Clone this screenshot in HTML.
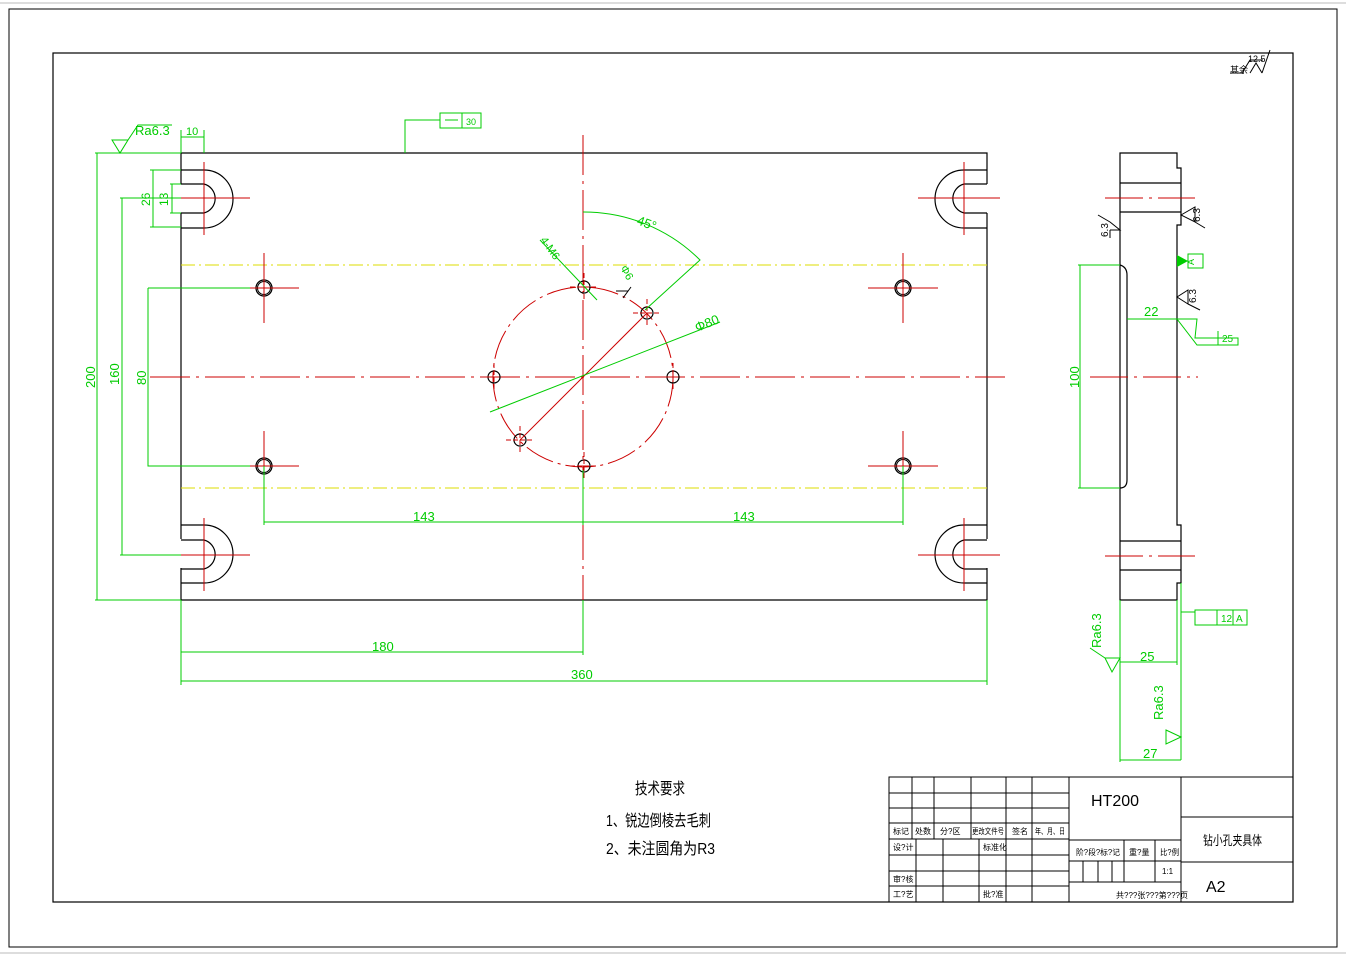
<!DOCTYPE html>
<html><head><meta charset="utf-8"><style>
body{margin:0;background:#fff}
svg{display:block}
text{font-family:"Liberation Sans","Noto Sans CJK SC",sans-serif}
</style></head><body>
<svg width="1346" height="957" viewBox="0 0 1346 957" xmlns="http://www.w3.org/2000/svg">
<defs>
<g id="notch">
 <path d="M181 170 H204 A29 29 0 0 1 204 228 H181 M181 184 H204 A15 15 0 0 1 204 213 H181" fill="none" stroke="#000" stroke-width="1.2"/>
 <path d="M168 198 H250 M204 162 V235" stroke="#c00" stroke-width="1"/>
</g>
<g id="hole">
 <circle cx="0" cy="0" r="8" fill="none" stroke="#000" stroke-width="1.3"/>
 <circle cx="0" cy="0" r="6.5" fill="none" stroke="#000" stroke-width="1"/>
 <path d="M-35 0 H35 M0 -35 V35" stroke="#c00" stroke-width="1"/>
</g>
<g id="sh">
 <circle cx="0" cy="0" r="6" fill="none" stroke="#000" stroke-width="1.2"/>
 <path d="M-14 0 H14 M0 -14 V14" stroke="#c00" stroke-width="1" stroke-dasharray="5 2"/>
</g>
</defs>
<rect x="0" y="0" width="1346" height="957" fill="#fff"/>
<rect x="9" y="9" width="1328" height="938" fill="none" stroke="#000" stroke-width="1"/>
<rect x="53" y="53" width="1240" height="849" fill="none" stroke="#000" stroke-width="1.2"/>
<line x1="0" y1="3" x2="1346" y2="3" stroke="#bbb"/>
<line x1="0" y1="953" x2="1346" y2="953" stroke="#bbb"/>

<path d="M181 153 H987 V170 M987 228 V525 M987 583 V600 H181 V583 M181 525 V228 M181 170 V153" fill="none" stroke="#000" stroke-width="1.2"/>
<path d="M181 170 V184 M181 213 V228 M987 170 V184 M987 213 V228 M181 525 V539 M181 568 V583 M987 525 V539 M987 568 V583" stroke="#000" stroke-width="1.2"/>
<use href="#notch"/>
<use href="#notch" transform="translate(1168,0) scale(-1,1)"/>
<use href="#notch" transform="translate(0,753) scale(1,-1)"/>
<use href="#notch" transform="translate(1168,753) scale(-1,-1)"/>

<path d="M181 265 H987 M181 488 H987" stroke="#dd0" stroke-width="1" stroke-dasharray="14 4 2 4"/>
<path d="M150 377 H1005 M583 135 V610" stroke="#c00" stroke-width="1" stroke-dasharray="40 6 3 6"/>
<circle cx="583" cy="377" r="90" fill="none" stroke="#c00" stroke-width="1" stroke-dasharray="30 5 3 5"/>
<use href="#hole" x="264" y="288"/>
<use href="#hole" x="903" y="288"/>
<use href="#hole" x="264" y="466"/>
<use href="#hole" x="903" y="466"/>
<use href="#sh" x="584" y="287"/>
<use href="#sh" x="584" y="466"/>
<use href="#sh" x="494" y="377"/>
<use href="#sh" x="673" y="377"/>
<use href="#sh" x="520" y="440"/>
<use href="#sh" x="647" y="313"/>
<path d="M520 440 L647 313" stroke="#c00" stroke-width="1"/>

<g stroke="#0c0" stroke-width="1" fill="none">
 <path d="M95 153 H181 M97 153 V600 M95 600 H181"/>
 <path d="M120 198 H181 M122 198 V555 M120 555 H181"/>
 <path d="M148 288 H250 M148 288 V466 H250"/>
 <path d="M150 170 H181 M153 170 V227 M150 227 H181"/>
 <path d="M170 184 H181 M172 184 V213 M170 213 H181"/>
 <path d="M181 130 V153 M204 130 V153 M181 137 H204"/>
 <path d="M264 466 V525 M903 466 V525 M264 522 H903 M583 470 V525"/>
 <path d="M181 600 V685 M987 600 V685 M181 652 H583 M583 600 V655 M181 681 H987"/>
 <path d="M583 212 A165 165 0 0 1 700 260 L645 310"/>
 <path d="M540 240 L597 300"/>
 <path d="M490 412 L720 322"/>
 <path d="M405 153 V120 H440 M440 113 H481 V128 H440 Z M462 113 V128 M445 120 H458"/>
 <path d="M112 140 L120 153 L128 140 Z M128 140 L138 125 H172"/>
</g>
<g fill="#0c0" font-size="13">
 <text x="135" y="135">Ra6.3</text>
 <text x="186" y="135" font-size="11">10</text>
 <text x="466" y="125" font-size="9">30</text>
 <text x="413" y="521">143</text>
 <text x="733" y="521">143</text>
 <text x="372" y="651">180</text>
 <text x="571" y="679">360</text>
 <text x="636" y="224" transform="rotate(20 636 224)">45°</text>
 <text x="697" y="332" transform="rotate(-22 697 332)">Φ80</text>
 <text x="540" y="240" transform="rotate(55 540 240)" font-size="11">4-M6</text>
 <text x="620" y="268" transform="rotate(60 620 268)" font-size="11">Φ6</text>
 <text x="95" y="388" transform="rotate(-90 95 388)">200</text>
 <text x="119" y="385" transform="rotate(-90 119 385)">160</text>
 <text x="146" y="385" transform="rotate(-90 146 385)">80</text>
 <text x="150" y="206" transform="rotate(-90 150 206)" font-size="12">26</text>
 <text x="168" y="206" transform="rotate(-90 168 206)" font-size="12">13</text>
</g>
<path d="M616 291 L628 291 M623 298 L631 287" stroke="#000" stroke-width="1"/>

<g stroke="#000" stroke-width="1.2" fill="none">
 <path d="M1120 153 H1177 V168 H1181 V225 H1177 V525 H1181 V583 H1177 V600 H1120 Z"/>
 <path d="M1120 183 H1181 M1120 212 H1181 M1120 541 H1181 M1120 570 H1181"/>
 <path d="M1120 265 Q1127 267 1127 275 V480 Q1127 488 1120 488"/>
</g>
<path d="M1105 198 H1195 M1105 556 H1195 M1090 377 H1198" stroke="#c00" stroke-width="1" stroke-dasharray="38 6 3 6"/>
<g stroke="#0c0" stroke-width="1" fill="none">
 <path d="M1078 265 H1120 M1080 265 V488 M1078 488 H1120"/>
 <path d="M1127 319 H1177 M1177 319 H1197 L1195 338 H1238 V345 H1197 Z M1218 331 V345"/>
 <path d="M1120 600 V762 M1177 600 V665 M1120 662 H1177 M1181 583 V760 M1120 760 H1181"/>
 <path d="M1181 612 H1195 M1195 610 H1247 V625 H1195 Z M1217 610 V625 M1233 610 V625"/>
 <path d="M1177 261 H1188 M1188 254 H1203 V268 H1188 Z"/>
 <path d="M1105 658 L1112 672 L1120 658 Z M1090 648 L1105 658"/>
 <path d="M1166 730 L1181 737 L1166 744 Z"/>
</g>
<path d="M1177 255 L1188 261 L1177 267 Z" fill="#0c0"/>
<g stroke="#000" stroke-width="1" fill="none">
 <path d="M1110 230 L1120 230 L1110 222 M1110 230 L1110 238 M1098 215 L1110 222"/>
 <path d="M1181 215 L1195 207 L1195 222 Z M1195 222 L1205 228"/>
 <path d="M1177 297 L1188 290 L1188 304 Z M1188 304 L1200 310"/>
 <path d="M1230 73 L1242 73 L1250 60 L1263 60 M1250 73 L1256 63 L1262 73 M1262 73 L1270 50"/>
</g>
<g font-size="10">
 <text x="1108" y="237" transform="rotate(-90 1108 237)">6.3</text>
 <text x="1200" y="222" transform="rotate(-90 1200 222)">6.3</text>
 <text x="1196" y="303" transform="rotate(-90 1196 303)">6.3</text>
 <text x="1230" y="73" font-size="9">其余</text>
 <text x="1248" y="62" font-size="9">12.5</text>
</g>
<g fill="#0c0" font-size="13">
 <text x="1144" y="316">22</text>
 <text x="1222" y="342" font-size="10">25</text>
 <text x="1194" y="265" font-size="9" transform="rotate(-90 1194 265)">A</text>
 <text x="1140" y="661">25</text>
 <text x="1143" y="758">27</text>
 <text x="1079" y="388" transform="rotate(-90 1079 388)">100</text>
 <text x="1221" y="622" font-size="10">12</text>
 <text x="1236" y="622" font-size="10">A</text>
 <text x="1101" y="648" transform="rotate(-90 1101 648)">Ra6.3</text>
 <text x="1163" y="720" transform="rotate(-90 1163 720)">Ra6.3</text>
</g>

<g font-size="16" fill="#000">
 <text x="635" y="794" textLength="50" lengthAdjust="spacingAndGlyphs">技术要求</text>
 <text x="606" y="826" textLength="105" lengthAdjust="spacingAndGlyphs">1、锐边倒棱去毛刺</text>
 <text x="606" y="854" textLength="109" lengthAdjust="spacingAndGlyphs">2、未注圆角为R3</text>
</g>

<g stroke="#000" stroke-width="1" fill="none">
 <rect x="889" y="777" width="404" height="125"/>
 <path d="M1069 777 V902 M1181 777 V902 M1181 817 H1293 M1181 862 H1293"/>
 <path d="M889 793 H1069 M889 808 H1069 M889 823 H1069 M889 839 H1069 M889 855 H1069 M889 871 H1069 M889 886 H1069"/>
 <path d="M912 777 V839 M934 777 V839 M971 777 V839 M1006 777 V839 M1032 777 V839"/>
 <path d="M916 839 V902 M943 839 V902 M979 839 V902 M1006 839 V902 M1032 839 V902"/>
 <path d="M1069 840 H1181 M1069 861 H1181 M1069 882 H1181 M1124 840 V882 M1155 840 V882 M1083 861 V882 M1098 861 V882 M1112 861 V882"/>
</g>
<g font-size="8" fill="#000">
 <text x="893" y="834">标记</text><text x="915" y="834">处数</text><text x="940" y="834">分?区</text><text x="972" y="834" textLength="32" lengthAdjust="spacingAndGlyphs">更改文件号</text><text x="1012" y="834">签名</text><text x="1035" y="834" textLength="30" lengthAdjust="spacingAndGlyphs">年、月、日</text>
 <text x="893" y="850">设?计</text><text x="983" y="850">标准化</text>
 <text x="893" y="882">审?核</text><text x="893" y="897">工?艺</text><text x="983" y="897">批?准</text>
 <text x="1076" y="855" textLength="44" lengthAdjust="spacingAndGlyphs">阶?段?标?记</text><text x="1129" y="855">重?量</text><text x="1160" y="855" textLength="19" lengthAdjust="spacingAndGlyphs">比?例</text>
 <text x="1162" y="874">1:1</text>
 <text x="1116" y="898" textLength="72" lengthAdjust="spacingAndGlyphs">共???张???第???页</text>
</g>
<text x="1091" y="806" font-size="16">HT200</text>
<text x="1203" y="845" font-size="13" textLength="59" lengthAdjust="spacingAndGlyphs">钻小孔夹具体</text>
<text x="1206" y="892" font-size="16">A2</text>
</svg>
</body></html>
